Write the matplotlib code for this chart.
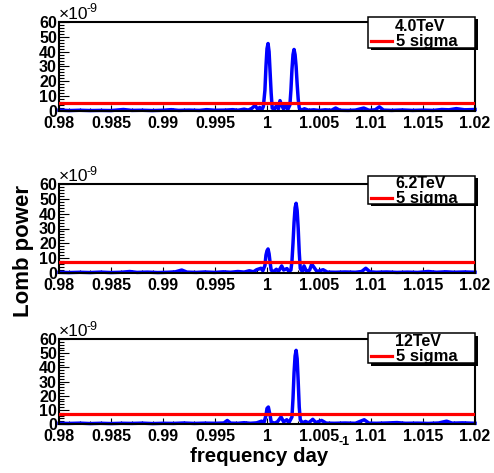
import matplotlib
matplotlib.use("Agg")
import matplotlib.pyplot as plt
from matplotlib.patches import Rectangle
from matplotlib.lines import Line2D
from matplotlib.ticker import MultipleLocator, FuncFormatter

# ---------------- data (power in units of 1e-9) ----------------
labels = ["4.0TeV", "6.2TeV", "12TeV"]
sigma_label = "5 sigma"

freq_40 = [0.9800, 0.9810, 0.9820, 0.9830, 0.9840, 0.9850, 0.9862, 0.9870, 0.9880, 0.9890,
           0.9900, 0.9908, 0.9915, 0.9925, 0.9935, 0.9942, 0.9950, 0.9960, 0.9967, 0.9972,
           0.9978, 0.9982, 0.99855, 0.99885, 0.9991, 0.9993, 0.9995, 0.99965, 0.9998, 0.9999,
           1.0000, 1.0001, 1.0002, 1.0003, 1.0004, 1.0005, 1.0007, 1.0009, 1.0011, 1.00125,
           1.0014, 1.0016, 1.0018, 1.0020, 1.0022, 1.0023, 1.0024, 1.0025, 1.0026, 1.0027,
           1.0028, 1.0029, 1.0030, 1.0031, 1.0033, 1.0036, 1.0040, 1.0045, 1.0050, 1.0056,
           1.0062, 1.0066, 1.0070, 1.0078, 1.0085, 1.0093, 1.0098, 1.0104, 1.0108, 1.0112,
           1.0120, 1.0130, 1.0140, 1.0150, 1.0160, 1.0168, 1.0175, 1.0182, 1.0190, 1.0200]
power_40 = [0.6, 0.3, 0.5, 0.3, 0.4, 0.3, 1.0, 0.4, 0.5, 0.3,
            0.5, 0.9, 0.4, 0.6, 0.4, 0.9, 0.5, 0.6, 0.9, 0.5,
            1.2, 0.6, 1.8, 3.8, 1.2, 2.4, 0.8, 3.0, 14, 30,
            42, 45.5, 40, 26, 12, 2, 1.0, 3.5, 1.5, 7.0,
            4, 1.2, 4.5, 1.0, 4, 14, 28, 38, 41.5, 38,
            30, 18, 8, 2, 0.5, 1.5, 0.5, 0.8, 0.4, 0.8,
            0.5, 2.0, 0.5, 0.4, 0.6, 2.0, 0.5, 0.8, 2.8, 0.6,
            0.4, 0.7, 0.4, 0.6, 0.4, 1.0, 0.8, 1.6, 0.8, 1.0]

freq_62 = [0.9800, 0.9810, 0.9820, 0.9830, 0.9840, 0.9850, 0.9860, 0.9868, 0.9875, 0.9885,
           0.9895, 0.9905, 0.9912, 0.9918, 0.9923, 0.9932, 0.9940, 0.9950, 0.9958, 0.9965,
           0.9972, 0.9978, 0.9983, 0.9987, 0.9990, 0.99942, 0.9996, 0.9998, 0.9999, 1.0000,
           1.0001, 1.0002, 1.0003, 1.0004, 1.0006, 1.0009, 1.0011, 1.00141, 1.0016, 1.00192,
           1.0021, 1.0023, 1.0024, 1.0025, 1.0026, 1.0027, 1.0028, 1.0029, 1.0030, 1.0031,
           1.0032, 1.0034, 1.00356, 1.0038, 1.0041, 1.0043, 1.0046, 1.0048, 1.0054, 1.0058,
           1.0066, 1.0075, 1.0085, 1.0091, 1.0095, 1.0099, 1.0105, 1.0115, 1.0125, 1.0135,
           1.0145, 1.0155, 1.0163, 1.0172, 1.0180, 1.0190, 1.0200]
power_62 = [0.5, 0.3, 0.5, 0.3, 0.6, 0.3, 0.5, 1.0, 0.4, 0.6,
            0.3, 0.5, 0.8, 2.0, 0.6, 0.4, 0.7, 0.4, 0.8, 0.5,
            1.0, 0.6, 1.5, 0.8, 2.2, 3.2, 1.5, 5, 12, 15,
            16.2, 13, 7, 2, 0.8, 2.5, 1.0, 4.8, 2.0, 3.0,
            1.0, 2, 8, 20, 34, 44, 47, 42, 30, 14,
            3, 1.0, 4.8, 1.0, 2.0, 6.0, 3.0, 1.0, 2.2, 0.6,
            0.5, 0.7, 0.5, 1.0, 3.2, 0.8, 0.5, 0.7, 0.4, 0.6,
            0.4, 1.0, 0.5, 0.8, 0.5, 0.7, 0.5]

freq_12 = [0.9800, 0.9810, 0.9820, 0.9830, 0.9840, 0.9850, 0.9860, 0.9870, 0.9880, 0.9890,
           0.9900, 0.9910, 0.9920, 0.9930, 0.9940, 0.9950, 0.99585, 0.99618, 0.9965, 0.9972,
           0.9978, 0.9984, 0.9990, 0.99948, 0.9997, 0.9999, 1.0000, 1.00013, 1.0003, 1.0004,
           1.0007, 1.0010, 1.00135, 1.0016, 1.0019, 1.0021, 1.0024, 1.0025, 1.0026, 1.0027,
           1.0028, 1.0029, 1.0030, 1.0031, 1.0032, 1.0034, 1.0037, 1.0040, 1.0044, 1.0047,
           1.00525, 1.0057, 1.0065, 1.0075, 1.0085, 1.00935, 1.0098, 1.0105, 1.0115, 1.0125,
           1.0133, 1.0145, 1.0155, 1.0165, 1.01727, 1.0178, 1.0188, 1.0200]
power_12 = [0.5, 0.4, 0.6, 0.3, 0.5, 0.3, 0.5, 0.4, 0.6, 0.3,
            0.5, 0.4, 0.7, 0.4, 0.6, 0.5, 0.7, 2.5, 0.6, 0.5,
            0.9, 0.5, 0.8, 2.0, 0.8, 6, 11, 12, 6, 1.5,
            0.6, 1.5, 5.0, 1.5, 3.0, 0.8, 5, 18, 36, 48,
            52, 46, 30, 12, 3, 0.8, 1.8, 0.8, 3.3, 1.0,
            2.5, 0.6, 0.5, 0.7, 0.5, 3.0, 0.6, 0.5, 0.7, 1.0,
            0.5, 0.6, 0.4, 0.7, 2.0, 0.6, 0.8, 0.5]

sigma5 = [5.4, 7.5, 7.0]

x_ticks = [0.98, 0.985, 0.99, 0.995, 1.0, 1.005, 1.01, 1.015, 1.02]
y_ticks = [0, 10, 20, 30, 40, 50, 60]

freqs = [freq_40, freq_62, freq_12]
powers = [power_40, power_62, power_12]

# ---------------- layout (pixels) ----------------
W, H = 494, 473
panels_px = [(59, 22, 475, 111), (59, 184, 475, 273), (59, 339, 475, 424)]
legend_px = [(368, 17, 475, 48), (368, 176, 475, 204), (368, 333, 475, 363)]
legend_base = [(31.0, 46.0), (188.3, 202.7), (345.8, 360.7)]

BOLD = dict(family="Liberation Sans", weight="bold")

fig = plt.figure(figsize=(W / 100, H / 100), dpi=100)
fig.patch.set_facecolor("white")


def fx(x):
    return x / W


def fy(y):
    return 1 - y / H


for i, (l, t, r, b) in enumerate(panels_px):
    ax = fig.add_axes([fx(l), fy(b), (r - l) / W, (b - t) / H])
    ax.plot(freqs[i], powers[i], color="#0000ff", lw=2.5, zorder=2, clip_on=False)
    ax.axhline(sigma5[i], color="#ff0000", lw=2.3, zorder=3)
    ax.set_xlim(0.98, 1.02)
    ax.set_ylim(0, 60)
    ax.set_xticks(x_ticks)
    ax.set_yticks(y_ticks)
    ax.xaxis.set_minor_locator(MultipleLocator(0.001))
    ax.yaxis.set_minor_locator(MultipleLocator(2))
    ax.xaxis.set_major_formatter(FuncFormatter(lambda v, p: "%g" % round(v, 4)))
    ax.tick_params(axis="both", which="both", direction="in", top=False, right=False,
                   width=0.8)
    ax.tick_params(axis="y", which="major", length=7.5, pad=1.5)
    ax.tick_params(axis="y", which="minor", length=3.7)
    ax.tick_params(axis="x", which="major", length=4.5, pad=3.5)
    ax.tick_params(axis="x", which="minor", length=2.3)
    for lab in ax.get_xticklabels() + ax.get_yticklabels():
        lab.set_fontfamily("Liberation Sans")
        lab.set_fontweight("bold")
        lab.set_fontsize(11.5)
    for s in ax.spines.values():
        s.set_linewidth(1.5)
        s.set_color("black")

    # exponent label
    fig.text(fx(59), fy(t - 3), "\u00d710", family="Liberation Sans", fontsize=12.5,
             ha="left", va="baseline")
    fig.text(fx(86.5), fy(t - 9.5), "-9", family="Liberation Sans", fontsize=9,
             ha="left", va="baseline")

    # legend with shadow
    ll, lt, lr, lb = legend_px[i]
    fig.add_artist(Rectangle((fx(ll + 2.5), fy(lb + 2.5)), (lr - ll) / W, (lb - lt) / H,
                             transform=fig.transFigure, facecolor="black",
                             edgecolor="black", lw=0, zorder=5))
    fig.add_artist(Rectangle((fx(ll), fy(lb)), (lr - ll) / W, (lb - lt) / H,
                             transform=fig.transFigure, facecolor="white",
                             edgecolor="black", lw=1.1, zorder=6))
    b1, b2 = legend_base[i]
    fig.text(fx(395), fy(b1), labels[i], ha="left", va="baseline", fontsize=11.5,
             zorder=7, **BOLD)
    fig.text(fx(396), fy(b2), sigma_label, ha="left", va="baseline", fontsize=12,
             zorder=7, **BOLD)
    ymid = (b2 - 5)
    fig.add_artist(Line2D([fx(371), fx(392)], [fy(ymid), fy(ymid)],
                          transform=fig.transFigure, color="#ff0000", lw=2.3, zorder=7))

# axis titles
fig.text(fx(23), fy(251), "Lomb power", rotation=90, ha="center", va="center",
         fontsize=16, **BOLD)
fig.text(fx(190), fy(462), "frequency day", ha="left", va="baseline", fontsize=14.7, **BOLD)
fig.text(fx(338), fy(445), "-1", ha="left", va="baseline", fontsize=9, **BOLD)

fig.savefig("out.png", dpi=100, facecolor="white")
